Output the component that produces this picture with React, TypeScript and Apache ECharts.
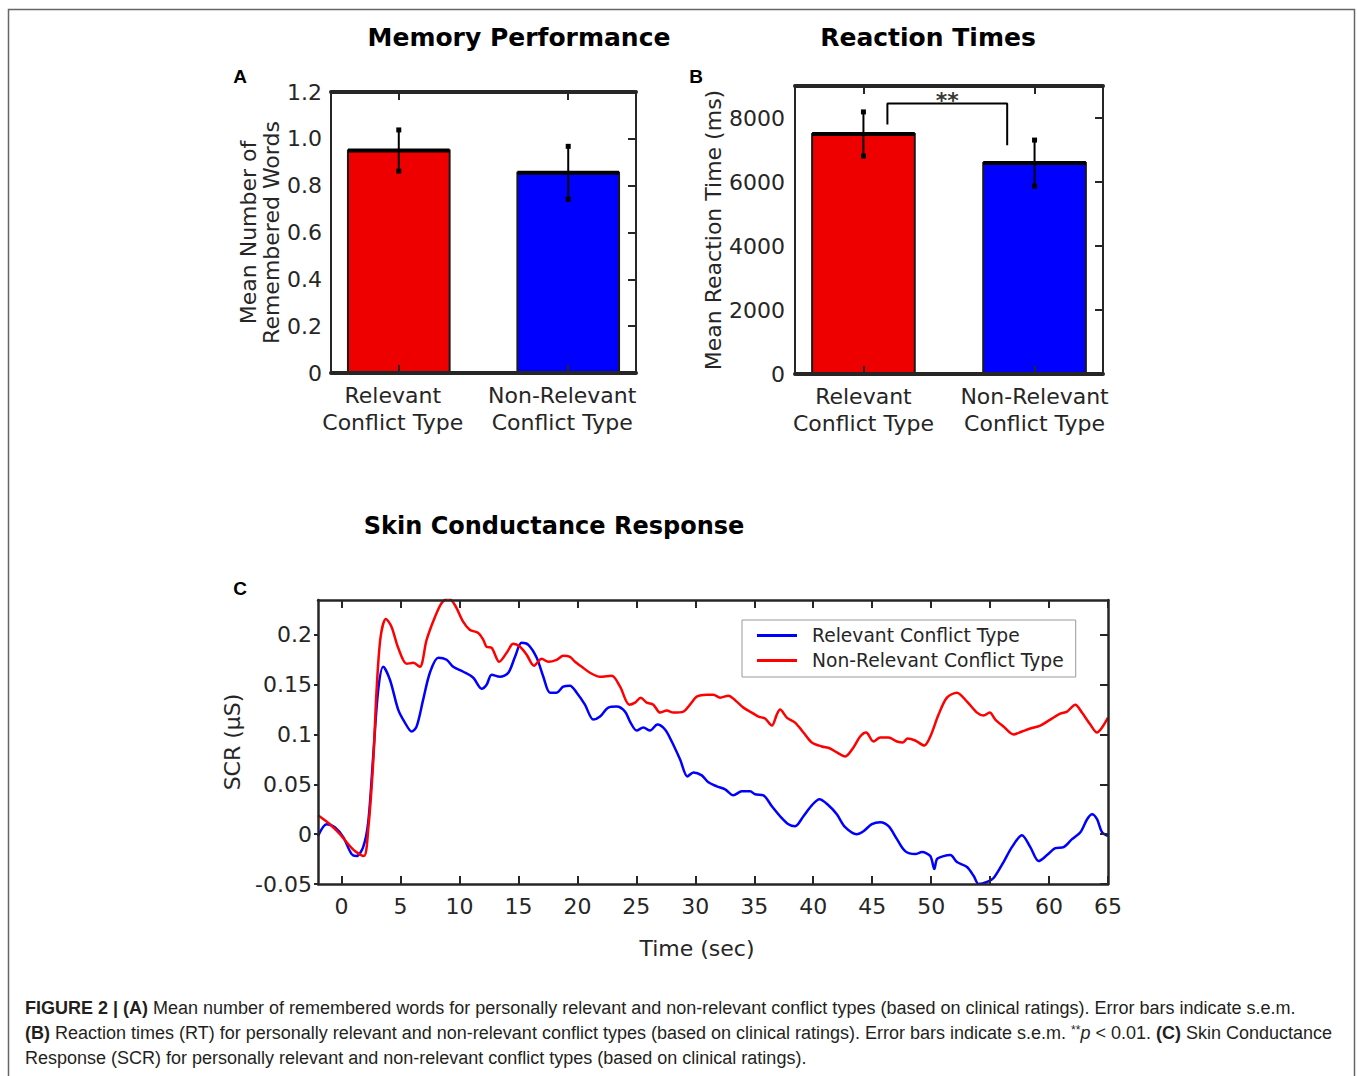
import { useEffect, useRef } from "react";
import * as echarts from "echarts";

// ---------------- data ----------------
const barCategories = ["Relevant\nConflict Type", "Non-Relevant\nConflict Type"];
const barPositions = [1, 2];
const barColors = ["#EE0000", "#0000FF"];

const memoryMeans = [0.95, 0.855];
const memorySem = [0.088, 0.113];
const memoryTicks = [0, 0.2, 0.4, 0.6, 0.8, 1.0, 1.2];

const rtMeans = [7500, 6590];
const rtSem = [690, 720];
const rtTicks = [0, 2000, 4000, 6000, 8000];

// significance bracket (x positions of the two feet, y of left foot, top, right foot)
const sigBracketX = [1.14, 1.84];
const sigBracketY = [7800, 8450, 7150];
const sigLabel = "**";

const scrTimeTicks = [0, 5, 10, 15, 20, 25, 30, 35, 40, 45, 50, 55, 60, 65];
const scrValueTicks = [-0.05, 0, 0.05, 0.1, 0.15, 0.2];

const relevantScr: [number, number][] = [
  [-2, -0.002], [-1.27, 0.010], [-0.57, 0.007], [0.14, -0.003], [0.85, -0.020], [1.27, -0.022],
  [1.83, -0.013], [2.26, 0.012], [2.68, 0.078], [3.11, 0.145], [3.53, 0.168], [4.10, 0.155],
  [4.80, 0.125], [5.37, 0.112], [5.94, 0.103], [6.36, 0.108], [6.92, 0.135], [7.49, 0.162],
  [8.20, 0.177], [8.91, 0.175], [9.47, 0.168], [10.32, 0.163], [11.17, 0.157], [11.88, 0.146],
  [12.30, 0.150], [12.73, 0.160], [13.43, 0.158], [14.14, 0.162], [14.71, 0.178], [15.27, 0.192],
  [15.84, 0.190], [16.55, 0.177], [17.11, 0.158], [17.68, 0.142], [18.24, 0.142], [18.80, 0.148],
  [19.37, 0.149], [19.94, 0.142], [20.64, 0.130], [21.35, 0.115], [21.92, 0.118], [22.62, 0.127],
  [23.33, 0.128], [24.04, 0.123], [24.46, 0.113], [25.03, 0.104], [25.59, 0.107], [26.16, 0.104],
  [26.78, 0.110], [27.43, 0.105], [28.00, 0.093], [28.71, 0.075], [29.33, 0.058], [29.84, 0.062],
  [30.55, 0.059], [31.11, 0.052], [31.82, 0.048], [32.53, 0.045], [33.23, 0.039], [33.94, 0.043],
  [34.65, 0.043], [35.07, 0.040], [35.78, 0.039], [36.49, 0.028], [37.19, 0.018], [37.90, 0.010],
  [38.46, 0.008], [39.17, 0.018], [39.88, 0.029], [40.53, 0.035], [41.29, 0.029], [42.00, 0.020],
  [42.71, 0.007], [43.69, 0.000], [44.26, 0.003], [44.97, 0.010], [45.68, 0.012], [46.39, 0.008],
  [47.10, -0.005], [47.80, -0.017], [48.65, -0.020], [49.22, -0.018], [49.93, -0.022], [50.27, -0.035],
  [50.50, -0.025], [51.06, -0.022], [51.63, -0.021], [52.19, -0.028], [53.04, -0.033], [53.61, -0.042],
  [54.03, -0.050], [54.74, -0.048], [55.30, -0.044], [56.14, -0.028], [56.85, -0.013], [57.70, -0.001],
  [58.41, -0.013], [59.12, -0.027], [59.83, -0.021], [60.53, -0.014], [61.24, -0.013], [61.95, -0.005],
  [62.66, 0.002], [63.23, 0.015], [63.65, 0.020], [64.07, 0.015], [64.49, 0.002], [65.0, -0.002],
];

const nonRelevantScr: [number, number][] = [
  [-2, 0.019], [-0.99, 0.010], [-0.14, 0.000], [0.56, -0.010], [1.13, -0.017], [1.89, -0.022],
  [2.26, 0.005], [2.68, 0.072], [2.97, 0.145], [3.31, 0.198], [3.76, 0.216], [4.24, 0.208],
  [4.80, 0.187], [5.52, 0.171], [6.08, 0.172], [6.64, 0.168], [7.21, 0.195], [7.92, 0.218],
  [8.49, 0.232], [9.05, 0.237], [9.61, 0.230], [10.32, 0.213], [10.89, 0.205], [11.59, 0.202],
  [12.02, 0.195], [12.30, 0.188], [12.73, 0.187], [13.37, 0.173], [14.00, 0.182], [14.56, 0.191],
  [15.13, 0.188], [15.70, 0.180], [16.32, 0.169], [16.97, 0.176], [17.53, 0.173], [18.24, 0.175],
  [18.80, 0.179], [19.37, 0.178], [19.80, 0.173], [20.37, 0.168], [21.07, 0.162], [21.92, 0.158],
  [22.91, 0.159], [23.62, 0.148], [24.40, 0.130], [24.89, 0.132], [25.37, 0.137], [25.88, 0.132],
  [26.44, 0.130], [27.01, 0.122], [27.58, 0.124], [28.14, 0.122], [28.99, 0.123], [29.55, 0.130],
  [30.12, 0.138], [30.97, 0.140], [31.53, 0.140], [32.10, 0.137], [32.80, 0.139], [33.51, 0.133],
  [34.08, 0.127], [34.79, 0.122], [35.36, 0.118], [35.92, 0.116], [36.49, 0.109], [36.91, 0.120],
  [37.19, 0.125], [37.76, 0.117], [38.46, 0.112], [39.17, 0.102], [39.88, 0.092], [40.73, 0.088],
  [41.43, 0.086], [42.00, 0.082], [42.71, 0.078], [43.41, 0.087], [43.98, 0.098], [44.49, 0.102],
  [45.11, 0.093], [45.68, 0.097], [46.39, 0.097], [47.10, 0.093], [47.61, 0.092], [48.00, 0.096],
  [48.65, 0.094], [49.42, 0.089], [49.93, 0.098], [50.63, 0.120], [51.34, 0.137], [52.19, 0.142],
  [53.04, 0.133], [53.89, 0.122], [54.45, 0.119], [54.96, 0.122], [55.44, 0.115], [56.14, 0.108],
  [56.99, 0.100], [57.70, 0.103], [58.41, 0.106], [59.26, 0.109], [60.10, 0.115], [60.95, 0.121],
  [61.52, 0.123], [62.23, 0.130], [62.79, 0.122], [63.50, 0.110], [64.07, 0.102], [64.49, 0.107],
  [65.0, 0.117],
];

const seriesNames = ["Relevant Conflict Type", "Non-Relevant Conflict Type"];
const lineColors = ["#0000FF", "#FF0000"];

const titles = ["Memory Performance", "Reaction Times", "Skin Conductance Response"];
const panelLetters = ["A", "B", "C"];
const captionLines = [
  "{b|FIGURE 2 | (A)} Mean number of remembered words for personally relevant and non-relevant conflict types (based on clinical ratings). Error bars indicate s.e.m.",
  "{b|(B)} Reaction times (RT) for personally relevant and non-relevant conflict types (based on clinical ratings). Error bars indicate s.e.m. {sup|**}{i|p} < 0.01. {b|(C)} Skin Conductance",
  "Response (SCR) for personally relevant and non-relevant conflict types (based on clinical ratings).",
];

// ---------------- styling helpers ----------------
const FONT = "DejaVu Sans";
const AX = "#262626";
const BAR_HALF = 0.3;
const TICK_FS = 22;
const CAP_FS = 18;

function fmtMemory(v: number) {
  return v === 0 ? "0" : v.toFixed(1);
}
function fmtScr(v: number) {
  return String(Math.round(v * 100) / 100);
}

function renderBar(_params: any, api: any) {
  const x = api.value(0);
  const y = api.value(1);
  const idx = api.value(2);
  const tl = api.coord([x - BAR_HALF, y]);
  const br = api.coord([x + BAR_HALF, 0]);
  return {
    type: "group",
    children: [
      {
        type: "rect",
        shape: { x: tl[0], y: tl[1], width: br[0] - tl[0], height: br[1] - tl[1] },
        style: { fill: barColors[idx], stroke: "#1a1a1a", lineWidth: 2 },
      },
      {
        type: "line",
        shape: { x1: tl[0], y1: tl[1], x2: br[0], y2: tl[1] },
        style: { stroke: "#000", lineWidth: 4 },
      },
    ],
  };
}

function renderErr(_params: any, api: any) {
  const x = api.value(0);
  const lo = api.coord([x, api.value(1)]);
  const hi = api.coord([x, api.value(2)]);
  const s = 5;
  return {
    type: "group",
    children: [
      { type: "line", shape: { x1: lo[0], y1: lo[1], x2: hi[0], y2: hi[1] }, style: { stroke: "#000", lineWidth: 2 } },
      { type: "rect", shape: { x: lo[0] - s / 2, y: lo[1] - s / 2, width: s, height: s }, style: { fill: "#000" } },
      { type: "rect", shape: { x: hi[0] - s / 2, y: hi[1] - s / 2, width: s, height: s }, style: { fill: "#000" } },
    ],
  };
}

function xAxisPair(gridIndex: number, min: number, max: number, ticks: number[], fmt: (v: number) => string, lw: number, extra: any = {}, labelPad: number[] = [0, 0, 0, 0]) {
  const line = { show: true, onZero: false, lineStyle: { color: AX, width: lw } };
  const tick = { show: true, inside: true, length: 8, customValues: ticks, lineStyle: { color: AX, width: 2 } };
  return [
    {
      type: "value", gridIndex, min, max, position: "bottom", z: 5,
      axisLine: line, axisTick: tick,
      axisLabel: { show: true, customValues: ticks, formatter: fmt, fontSize: TICK_FS, lineHeight: 27, color: AX, fontFamily: FONT, margin: 9, padding: labelPad },
      splitLine: { show: false },
      ...extra,
    },
    {
      type: "value", gridIndex, min, max, position: "top", z: 5,
      axisLine: line, axisTick: tick, axisLabel: { show: false }, splitLine: { show: false },
    },
  ];
}

function yAxisPair(gridIndex: number, min: number, max: number, ticks: number[], fmt: (v: number) => string, lw: number, margin: number, leftTick: any, extra: any = {}) {
  const line = { show: true, onZero: false, lineStyle: { color: AX, width: lw } };
  return [
    {
      type: "value", gridIndex, min, max, position: "left", z: 5,
      axisLine: line, axisTick: leftTick,
      axisLabel: { show: true, customValues: ticks, formatter: fmt, fontSize: TICK_FS, color: AX, fontFamily: FONT, margin },
      splitLine: { show: false },
      ...extra,
    },
    {
      type: "value", gridIndex, min, max, position: "right", z: 5,
      axisLine: line,
      axisTick: { show: true, inside: true, length: 8, customValues: ticks, lineStyle: { color: AX, width: 2 } },
      axisLabel: { show: false }, splitLine: { show: false },
    },
  ];
}

function buildOption(): any {
  const catFmt = (v: number) => barCategories[Math.round(v) - 1] ?? "";
  const nameStyle = { fontSize: 22, color: AX, fontFamily: FONT, lineHeight: 23 };

  const xAxis = [
    ...xAxisPair(0, 0.6, 2.4, barPositions, catFmt, 4, {}, [0, 12, 0, 0]),
    ...xAxisPair(1, 0.6, 2.4, barPositions, catFmt, 4),
    ...xAxisPair(2, -2, 65, scrTimeTicks, (v) => String(v), 2.5, {
      name: "Time (sec)", nameLocation: "middle", nameGap: 53,
      nameTextStyle: { fontSize: 22, color: AX, fontFamily: FONT, padding: [0, 32, 0, 0] },
    }),
  ];
  const yAxis = [
    ...yAxisPair(0, 0, 1.2, memoryTicks, fmtMemory, 2, 9, { show: false }, {
      name: "Mean Number of\nRemembered Words", nameLocation: "middle", nameGap: 45, nameTextStyle: nameStyle,
    }),
    ...yAxisPair(1, 0, 9000, rtTicks, (v) => String(v), 2, 10, { show: false }, {
      name: "Mean Reaction Time (ms)", nameLocation: "middle", nameGap: 66, nameTextStyle: nameStyle,
    }),
    ...yAxisPair(2, -0.05, 0.235, scrValueTicks, fmtScr, 2.5, 6,
      { show: true, inside: false, length: 4, customValues: scrValueTicks, lineStyle: { color: AX, width: 2 } }, {
        name: "SCR (µS)", nameLocation: "middle", nameGap: 65, nameTextStyle: nameStyle,
      }),
  ];

  const capBase = { fontFamily: "Liberation Sans", fontSize: CAP_FS, fill: "#231f20", color: "#231f20" };
  const captionRich = {
    b: { ...capBase, fontWeight: "bold" },
    i: { ...capBase, fontStyle: "italic" },
    sup: { ...capBase, fontSize: 12, verticalAlign: "top" },
  };

  const textEl = (x: number, y: number, text: string, font: any, align = "center") => ({
    type: "text", x, y, silent: true,
    style: {
      text, fill: "#000", align, verticalAlign: "middle", textAlign: align, textVerticalAlign: "middle",
      ...font,
    },
  });

  const graphic = [
    {
      type: "rect", silent: true, z: -10,
      shape: { x: 8.5, y: 9.5, width: 1346, height: 1100 },
      style: { fill: "none", stroke: "#666", lineWidth: 1.5 },
    },
    textEl(519, 37, titles[0], { fontFamily: FONT, fontSize: 25, fontWeight: "bold" }),
    textEl(928, 37, titles[1], { fontFamily: FONT, fontSize: 25, fontWeight: "bold" }),
    textEl(554, 526, titles[2], { fontFamily: FONT, fontSize: 24, fontWeight: "bold" }),
    textEl(240, 76, panelLetters[0], { fontFamily: "Liberation Sans", fontSize: 19, fontWeight: "bold" }),
    textEl(696, 76, panelLetters[1], { fontFamily: "Liberation Sans", fontSize: 19, fontWeight: "bold" }),
    textEl(240, 588, panelLetters[2], { fontFamily: "Liberation Sans", fontSize: 19, fontWeight: "bold" }),
    ...captionLines.map((line, i) => ({
      type: "text", x: 25, y: 1008 + i * 25, silent: true,
      style: {
        text: line, fill: "#231f20", fontFamily: "Liberation Sans", fontSize: CAP_FS,
        align: "left", verticalAlign: "middle", textAlign: "left", textVerticalAlign: "middle",
        rich: captionRich,
      },
    })),
  ];

  return {
    animation: false,
    backgroundColor: "#fff",
    textStyle: { fontFamily: FONT },
    grid: [
      { left: 331, top: 92, width: 305, height: 281 },
      { left: 795, top: 86, width: 308, height: 288 },
      { left: 318, top: 600, width: 790, height: 284 },
    ],
    xAxis,
    yAxis,
    legend: {
      data: seriesNames,
      orient: "vertical",
      left: 742,
      top: 620,
      padding: [6, 12, 7, 15],
      itemGap: 6,
      itemWidth: 40,
      itemHeight: 3,
      icon: "rect",
      borderColor: "#999",
      borderWidth: 1,
      backgroundColor: "#fff",
      selectedMode: false,
      textStyle: { fontSize: 18.7, fontFamily: FONT, color: AX, padding: [0, 0, 0, 10] },
    },
    graphic,
    series: [
      {
        type: "custom", name: "memoryBars", xAxisIndex: 0, yAxisIndex: 0,
        renderItem: renderBar, encode: { x: 0, y: 1 },
        data: memoryMeans.map((m, i) => [barPositions[i], m, i]),
      },
      {
        type: "custom", name: "memoryErr", xAxisIndex: 0, yAxisIndex: 0, z: 3,
        renderItem: renderErr, encode: { x: 0, y: [1, 2] },
        data: memoryMeans.map((m, i) => [barPositions[i], m - memorySem[i], m + memorySem[i]]),
      },
      {
        type: "custom", name: "rtBars", xAxisIndex: 2, yAxisIndex: 2,
        renderItem: renderBar, encode: { x: 0, y: 1 },
        data: rtMeans.map((m, i) => [barPositions[i], m, i]),
      },
      {
        type: "custom", name: "rtErr", xAxisIndex: 2, yAxisIndex: 2, z: 3,
        renderItem: renderErr, encode: { x: 0, y: [1, 2] },
        data: rtMeans.map((m, i) => [barPositions[i], m - rtSem[i], m + rtSem[i]]),
      },
      {
        type: "line", name: "sigBracket", xAxisIndex: 2, yAxisIndex: 2, silent: true,
        symbol: "none", lineStyle: { color: "#000", width: 2 },
        data: [
          [sigBracketX[0], sigBracketY[0]],
          [sigBracketX[0], sigBracketY[1]],
          [sigBracketX[1], sigBracketY[1]],
          [sigBracketX[1], sigBracketY[2]],
        ],
      },
      {
        type: "scatter", name: "sigLabel", xAxisIndex: 2, yAxisIndex: 2, silent: true,
        symbolSize: 0,
        data: [[(sigBracketX[0] + sigBracketX[1]) / 2, sigBracketY[1]]],
        label: {
          show: true, formatter: sigLabel, position: "inside", offset: [0, -3],
          fontSize: 22, fontWeight: "bold", color: "#000", fontFamily: FONT,
        },
      },
      {
        type: "line", name: seriesNames[0], xAxisIndex: 4, yAxisIndex: 4,
        symbol: "none", showSymbol: false, smooth: 0.3,
        lineStyle: { color: lineColors[0], width: 2.5 }, itemStyle: { color: lineColors[0] },
        data: relevantScr,
      },
      {
        type: "line", name: seriesNames[1], xAxisIndex: 4, yAxisIndex: 4,
        symbol: "none", showSymbol: false, smooth: 0.3,
        lineStyle: { color: lineColors[1], width: 2.5 }, itemStyle: { color: lineColors[1] },
        data: nonRelevantScr,
      },
    ],
  };
}

export default function App() {
  const ref = useRef<HTMLDivElement>(null);
  useEffect(() => {
    document.body.style.margin = "0";
    document.body.style.overflow = "hidden";
    const chart = echarts.init(ref.current!, null, { renderer: "svg" });
    chart.setOption(buildOption());
    return () => chart.dispose();
  }, []);
  return <div ref={ref} style={{ position: "absolute", left: 0, top: 0, width: 1357, height: 1076 }} />;
}
